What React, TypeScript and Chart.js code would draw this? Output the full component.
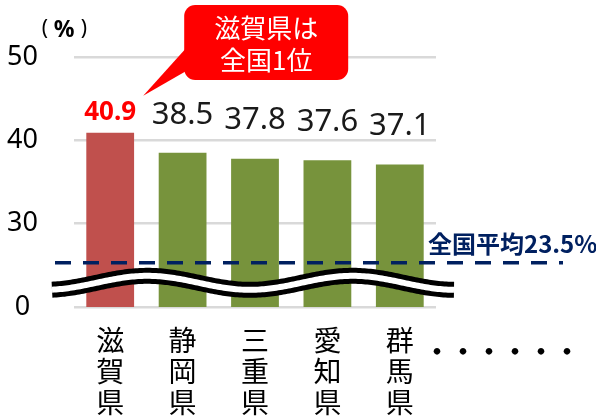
import React, { useEffect, useRef } from 'react';
import { Chart, registerables } from 'chart.js';

Chart.register(...registerables);

// ---- data ----
const prefectureLabels: string[][] = [
  ['滋', '賀', '県'],
  ['静', '岡', '県'],
  ['三', '重', '県'],
  ['愛', '知', '県'],
  ['群', '馬', '県'],
];
const rates: number[] = [40.9, 38.5, 37.8, 37.6, 37.1];
const rateLabels: string[] = ['40.9', '38.5', '37.8', '37.6', '37.1'];
const barColors: string[] = ['#C0504D', '#77933C', '#77933C', '#77933C', '#77933C'];
const yTickValues: number[] = [20, 30, 40, 50];
const yTickLabels: string[] = ['0', '30', '40', '50'];
const nationalAverage = 23.5;
const averageOnBrokenAxis = 25.3; // where the average sits on the broken (compressed) axis
const breakWaveValue = 22.9; // centre of the axis-break wave
const calloutLines: string[] = ['滋賀県は', '全国1位'];
const unitParts: string[] = ['（', '%', '）'];
const moreLabel = '・・・・・・';

const JP = '"Noto Sans CJK JP", "Noto Sans", sans-serif';
const NAVY = '#002060';

const overlayPlugin = {
  id: 'overlay',
  afterDatasetsDraw(chart: any) {
    const { ctx, chartArea, scales } = chart;
    const y = scales.y;
    const meta = chart.getDatasetMeta(0);
    ctx.save();

    // dashed national average line
    const avgY = y.getPixelForValue(averageOnBrokenAxis);
    ctx.strokeStyle = NAVY;
    ctx.lineWidth = 3.5;
    ctx.setLineDash([16, 12]);
    ctx.beginPath();
    ctx.moveTo(chartArea.left - 19, avgY);
    ctx.lineTo(chartArea.right + 127, avgY);
    ctx.stroke();
    ctx.setLineDash([]);

    // average label
    ctx.fillStyle = NAVY;
    ctx.font = `bold 24px ${JP}`;
    ctx.textAlign = 'left';
    ctx.textBaseline = 'middle';
    ctx.fillText(`全国平均${nationalAverage}%`, chartArea.right - 8, avgY - 19);

    // axis-break wave
    const cy = y.getPixelForValue(breakWaveValue);
    const x0 = chartArea.left - 22;
    const x1 = chartArea.right + 19;
    const pts: [number, number][] = [];
    for (let x = x0; x <= x1; x += 2) {
      pts.push([x, cy + 7 * Math.cos((2 * Math.PI * (x - (chartArea.left - 29))) / 205)]);
    }
    const drawWave = () => {
      ctx.beginPath();
      pts.forEach(([px, py], i) => (i === 0 ? ctx.moveTo(px, py) : ctx.lineTo(px, py)));
      ctx.stroke();
    };
    ctx.lineCap = 'butt';
    ctx.lineJoin = 'round';
    ctx.strokeStyle = '#000';
    ctx.lineWidth = 16;
    drawWave();
    ctx.strokeStyle = '#fff';
    ctx.lineWidth = 6;
    drawWave();

    // value labels
    meta.data.forEach((bar: any, i: number) => {
      ctx.textAlign = 'center';
      ctx.textBaseline = 'middle';
      if (i === 0) {
        ctx.fillStyle = '#FF0000';
        ctx.font = 'bold 26px "Noto Sans", sans-serif';
        ctx.fillText(rateLabels[i], bar.x, bar.y - 20);
      } else {
        ctx.fillStyle = '#1a1a1a';
        ctx.font = '31px "Noto Sans", sans-serif';
        ctx.fillText(rateLabels[i], bar.x, bar.y - 38);
      }
    });

    // callout
    const b0 = meta.data[0];
    const tipX = b0.x + 33;
    const tipY = b0.y - 37;
    const bx = tipX + 41;
    const by = chartArea.top - 52;
    const bw = 164;
    const bh = 75;
    ctx.fillStyle = '#FF0000';
    ctx.beginPath();
    ctx.roundRect(bx, by, bw, bh, 11);
    ctx.fill();
    ctx.beginPath();
    ctx.moveTo(tipX, tipY);
    ctx.lineTo(bx + 2, by + 43);
    ctx.lineTo(bx + 2, by + 66);
    ctx.closePath();
    ctx.fill();
    ctx.fillStyle = '#fff';
    ctx.font = `26px ${JP}`;
    ctx.textAlign = 'center';
    ctx.fillText(calloutLines[0], bx + bw / 2, by + 23);
    ctx.fillText(calloutLines[1], bx + bw / 2, by + 55);

    // unit label
    ctx.fillStyle = '#000';
    const uy = chartArea.top - 28;
    ctx.font = '21px "Noto Sans", sans-serif';
    ctx.fillText(unitParts[0].replace('（', '('), 45, uy);
    ctx.fillText(unitParts[2].replace('）', ')'), 84, uy);
    ctx.font = 'bold 23px "Noto Sans", sans-serif';
    ctx.fillText(unitParts[1], 64, uy + 1);

    // continuation dots
    ctx.font = `bold 26px ${JP}`;
    ctx.textAlign = 'left';
    ctx.fillText(moreLabel, chartArea.right - 12, scales.x.top + 44);

    ctx.restore();
  },
};

export default function App() {
  const ref = useRef<HTMLCanvasElement>(null);
  useEffect(() => {
    if (!ref.current) return;
    const chart = new Chart(ref.current, {
      type: 'bar',
      data: {
        labels: prefectureLabels,
        datasets: [
          {
            data: rates,
            backgroundColor: barColors,
            barPercentage: 0.66,
            categoryPercentage: 1,
          },
        ],
      },
      options: {
        responsive: false,
        animation: false,
        layout: { padding: { top: 57, right: 160, left: 0, bottom: 0 } },
        plugins: { legend: { display: false }, tooltip: { enabled: false } },
        scales: {
          x: {
            grid: { display: false, drawTicks: false },
            border: { display: false },
            ticks: {
              color: '#000',
              font: { family: JP, size: 28, lineHeight: 1.107 },
              padding: 18,
              maxRotation: 0,
              autoSkip: false,
            },
            afterFit: (s: any) => {
              s.height = 113;
            },
          },
          y: {
            min: 20,
            max: 50,
            grid: { color: '#D9D9D9', lineWidth: 2.5, drawTicks: false },
            border: { display: false },
            afterBuildTicks: (s: any) => {
              s.ticks = yTickValues.map((v) => ({ value: v }));
            },
            ticks: {
              color: '#000',
              font: { family: '"Noto Sans", sans-serif', size: 27 },
              crossAlign: 'center',
              padding: 36,
              callback: (v: any) => yTickLabels[yTickValues.indexOf(Number(v))] ?? '',
            },
            afterFit: (s: any) => {
              s.width = 74;
            },
          },
        },
      },
      plugins: [overlayPlugin],
    });
    return () => chart.destroy();
  }, []);
  return (
    <div style={{ position: 'fixed', left: 0, top: 0, width: 596, height: 420, background: '#fff' }}>
      <canvas ref={ref} width={596} height={420} />
    </div>
  );
}
